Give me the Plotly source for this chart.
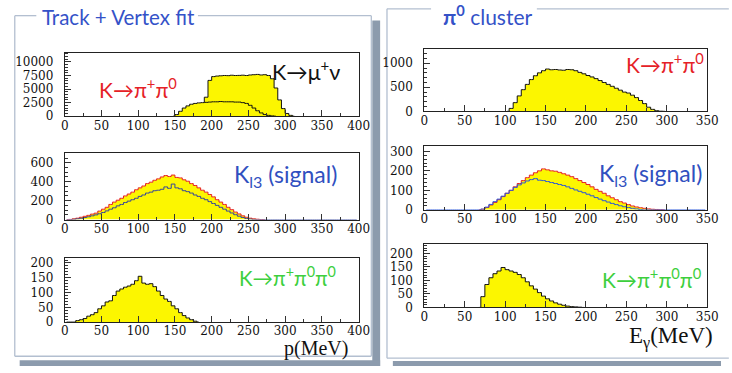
import plotly.graph_objects as go

W, H = 732, 373

# ---------------- data (counts per bin) ----------------
P_BIN = 5          # MeV bin width used for all histograms
P_MAX = 400        # left panels: momentum axis
E_MAX = 350        # right panels: photon energy axis

# Left top: K -> mu nu and K -> pi+ pi0 momentum spectra
A_MUNU_START = 180
A_MUNU = [0, 300, 3500, 6600, 7300, 7400, 7450, 7500, 7480, 7550, 7500, 7520, 7560,
          7500, 7600, 7650, 7700, 7600, 7650, 7500, 6900, 5200, 3000, 1400, 500, 150, 0]
A_PIPI_START = 145
A_PIPI = [0, 300, 900, 1500, 1900, 2200, 2350, 2450, 2500, 2550, 2600, 2650, 2650, 2700,
          2650, 2650, 2650, 2600, 2600, 2500, 2350, 2000, 1500, 1000, 600, 300, 150, 50, 0]

# Left middle: K_l3 signal (total, red) and sub-sample (blue)
B_START = 0
B_TOTAL = [0, 2, 8, 15, 25, 35, 45, 58, 68, 90, 110, 130, 160, 185, 205, 225, 250, 270,
           290, 315, 335, 355, 380, 395, 415, 430, 450, 465, 455, 470, 445, 440, 420, 405,
           380, 360, 335, 310, 290, 265, 240, 210, 185, 160, 130, 105, 80, 60, 40, 25, 15,
           8, 4, 1, 0]
B_SUB = [0, 0, 3, 8, 14, 22, 30, 40, 50, 62, 75, 92, 110, 125, 145, 160, 180, 195, 210,
         225, 245, 260, 280, 290, 305, 310, 320, 345, 330, 375, 335, 325, 305, 295, 280,
         260, 245, 225, 210, 190, 170, 150, 130, 110, 90, 70, 52, 36, 22, 12, 6, 2, 0]

# Left bottom: K -> pi+ pi0 pi0
C_START = 0
C_PI3 = [0, 0, 0, 5, 8, 12, 20, 25, 32, 45, 55, 68, 72, 90, 105, 112, 118, 122, 128, 140,
         155, 132, 128, 130, 120, 105, 90, 78, 70, 55, 45, 32, 22, 14, 8, 3, 0]

# Right top: K -> pi+ pi0 photon energy
D_START = 100
D_PIPI = [0, 60, 180, 320, 450, 560, 660, 740, 800, 845, 880, 865, 870, 860, 855, 870,
          865, 845, 810, 780, 745, 715, 680, 640, 600, 560, 520, 480, 440, 400, 380, 335,
          285, 225, 160, 85, 40, 12, 2, 0]

# Right middle: K_l3 signal, total (red) and sub-sample (blue)
E_START = 65
E_TOTAL = [0, 3, 12, 25, 38, 52, 68, 85, 100, 118, 135, 150, 165, 178, 190, 200, 210, 205,
           200, 198, 192, 185, 178, 170, 160, 150, 140, 130, 118, 105, 95, 85, 72, 62, 52,
           42, 35, 27, 20, 15, 11, 8, 5, 3, 2, 1, 0]
E_SUB = [0, 4, 14, 28, 42, 55, 70, 85, 100, 115, 128, 138, 148, 155, 160, 152, 150, 145,
         140, 135, 130, 125, 118, 110, 102, 95, 88, 80, 72, 63, 55, 47, 40, 33, 27, 21, 16,
         12, 8, 5, 2, 0]

# Right bottom: K -> pi+ pi0 pi0
F_START = 65
F_PI3 = [0, 40, 85, 110, 125, 135, 148, 140, 135, 130, 122, 110, 95, 80, 68, 55, 42, 32,
         24, 17, 12, 8, 5, 3, 2, 1, 0]

# ---------------- helpers ----------------
def px(x):
    return x / W

def py(y):
    return 1 - y / H

def centers(start, vals, total_max=None):
    xs = [start + P_BIN * (i + 0.5) for i in range(len(vals))]
    ys = list(vals)
    if total_max is not None:
        # the histogram continues at zero along the baseline up to the axis end
        x = xs[-1] + P_BIN
        while x < total_max:
            xs.append(x)
            ys.append(0)
            x += P_BIN
        if start > 0:
            x = start - P_BIN * 0.5
            pre_x, pre_y = [], []
            while x > 0:
                pre_x.insert(0, x)
                pre_y.insert(0, 0)
                x -= P_BIN
            xs = pre_x + xs
            ys = pre_y + ys
    return xs, ys

YELLOW = '#fcf600'
RED = '#e52127'
BLUE_L = '#35459a'
BLUE_R = '#2a56d8'
GREEN = '#3dcf3d'
TITLE_BLUE = '#3452c8'

fig = go.Figure()

def hist(xs, ys, axis, line_color='#111111', fill=True, width=1):
    fig.add_trace(go.Scatter(
        x=xs, y=ys, mode='lines', line=dict(color=line_color, width=width, shape='hvh'),
        fill='tozeroy' if fill else None, fillcolor=YELLOW if fill else None,
        xaxis='x' + axis, yaxis='y' + axis, showlegend=False, hoverinfo='skip'))

# A (axis '' -> x / y)
x, y = centers(A_MUNU_START, A_MUNU)
hist(x, y, '')
x, y = centers(A_PIPI_START, A_PIPI)
hist(x, y, '')
# B
x, y = centers(B_START, B_TOTAL)
hist(x, y, '2', line_color=RED)
x, y = centers(B_START, B_SUB, P_MAX)
hist(x, y, '2', line_color=BLUE_L, fill=False)
# C
x, y = centers(C_START, C_PI3)
hist(x, y, '3')
# D
x, y = centers(D_START, D_PIPI)
hist(x, y, '4')
# E
x, y = centers(E_START, E_TOTAL)
hist(x, y, '5', line_color=RED)
x, y = centers(E_START, E_SUB, E_MAX)
hist(x, y, '5', line_color=BLUE_R, fill=False)
# F
x, y = centers(F_START, F_PI3)
hist(x, y, '6')

# ---------------- axes ----------------
SERIF = 'Liberation Serif'
TICKSERIF = 'DejaVu Serif'
TICKFONT = dict(family=TICKSERIF, size=12, color='#111111')

def xaxis(dom, rng, anchor):
    return dict(domain=[px(dom[0]), px(dom[1])], range=rng, anchor=anchor,
                dtick=50, tick0=0, tickformat='d', ticks='inside', ticklen=6,
                tickcolor='#333333', tickwidth=1, showline=True, linecolor='#222222',
                linewidth=1, mirror=True, showgrid=False, zeroline=False,
                tickfont=TICKFONT, ticklabelstandoff=-2,
                minor=dict(dtick=25, ticks='inside', ticklen=3, tickcolor='#333333'))

def yaxis(dom, rng, dtick, minor, anchor):
    return dict(domain=[py(dom[1]), py(dom[0])], range=rng, anchor=anchor,
                dtick=dtick, tick0=0, tickformat='d', ticks='inside', ticklen=6,
                tickcolor='#333333', tickwidth=1, showline=True, linecolor='#222222',
                linewidth=1, mirror=True, showgrid=False, zeroline=False,
                tickfont=TICKFONT, ticklabelstandoff=8,
                minor=dict(dtick=minor, ticks='inside', ticklen=3, tickcolor='#333333'))

LX = (62, 362)
RX = (429, 718)
layout_axes = dict(
    xaxis=xaxis(LX, [0, P_MAX], 'y'),   yaxis=yaxis((52, 117), [0, 11700], 2500, 500, 'x'),
    xaxis2=xaxis(LX, [0, P_MAX], 'y2'), yaxis2=yaxis((155, 223), [0, 700], 200, 50, 'x2'),
    xaxis3=xaxis(LX, [0, P_MAX], 'y3'), yaxis3=yaxis((262, 328), [0, 218], 50, 10, 'x3'),
    xaxis4=xaxis(RX, [0, E_MAX], 'y4'), yaxis4=yaxis((48, 112), [0, 1300], 500, 100, 'x4'),
    xaxis5=xaxis(RX, [0, E_MAX], 'y5'), yaxis5=yaxis((148, 213), [0, 325], 100, 20, 'x5'),
    xaxis6=xaxis(RX, [0, E_MAX], 'y6'), yaxis6=yaxis((248, 313), [0, 235], 50, 10, 'x6'),
)

# ---------------- panel frames ----------------
FRAME = '#b3bfd0'
SHADOW = '#8c9bad'
shapes = []

def rect(x0, y0, x1, y1, color):
    shapes.append(dict(type='rect', xref='paper', yref='paper', x0=px(x0), x1=px(x1),
                       y0=py(y1), y1=py(y0), fillcolor=color, line=dict(width=0),
                       layer='below'))

def seg(x0, y0, x1, y1):
    shapes.append(dict(type='line', xref='paper', yref='paper', x0=px(x0), x1=px(x1),
                       y0=py(y0), y1=py(y1), line=dict(color=FRAME, width=1.3),
                       layer='below'))

# shadows
rect(376, 19, 384, 373, SHADOW)
rect(16, 367, 384, 373, SHADOW)
rect(397, 368, 732, 373, SHADOW)
# left frame
seg(11, 14, 33, 14); seg(198, 14, 375, 14)
seg(11, 14, 11, 363); seg(375, 14, 375, 363); seg(11, 363, 375, 363)
# right frame
seg(391, 7, 436, 7); seg(544, 7, 740, 7)
seg(391, 7, 391, 365); seg(391, 365, 740, 365)

# ---------------- texts ----------------
SANS = 'Lato'
ann = []

def text(x, y, s, color, size, family=SANS, xanchor='left'):
    ann.append(dict(x=px(x), y=py(y), xref='paper', yref='paper', text=s, showarrow=False,
                    xanchor=xanchor, yanchor='middle',
                    font=dict(family=family, size=size, color=color)))

text(37, 15, 'Track + Vertex fit', TITLE_BLUE, 20.5)
text(446, 13, '<b>π<sup>0</sup></b> cluster', TITLE_BLUE, 21)
text(95, 88, 'K→π<sup>+</sup>π<sup>0</sup>', RED, 21)
text(272, 70, 'K→μ<sup>+</sup>ν', '#111111', 21.5)
text(233, 178, 'K<sub>l3</sub> (signal)', '#3050c0', 23)
text(238, 281, 'K→π<sup>+</sup>π<sup>0</sup>π<sup>0</sup>', GREEN, 20.5)
text(633, 62, 'K→π<sup>+</sup>π<sup>0</sup>', RED, 21)
text(605, 177, 'K<sub>l3</sub> (signal)', '#3050c0', 23)
text(608, 283, 'K→π<sup>+</sup>π<sup>0</sup>π<sup>0</sup>', GREEN, 21)
text(319, 355, 'p(MeV)', '#111111', 20, family=SERIF, xanchor='center')
text(681, 344, 'E<sub>γ</sub>(MeV)', '#111111', 23, family=SERIF, xanchor='center')

fig.update_layout(
    width=W, height=H, autosize=False,
    margin=dict(l=0, r=0, t=0, b=0),
    font=dict(family=TICKSERIF, size=12, color='#111111'),
    paper_bgcolor='white', plot_bgcolor='white',
    shapes=shapes, annotations=ann, showlegend=False,
    **layout_axes)

fig.write_html('out.html', config={'displayModeBar': False},
               post_script="document.body.style.margin='0';document.body.style.padding='0';")
